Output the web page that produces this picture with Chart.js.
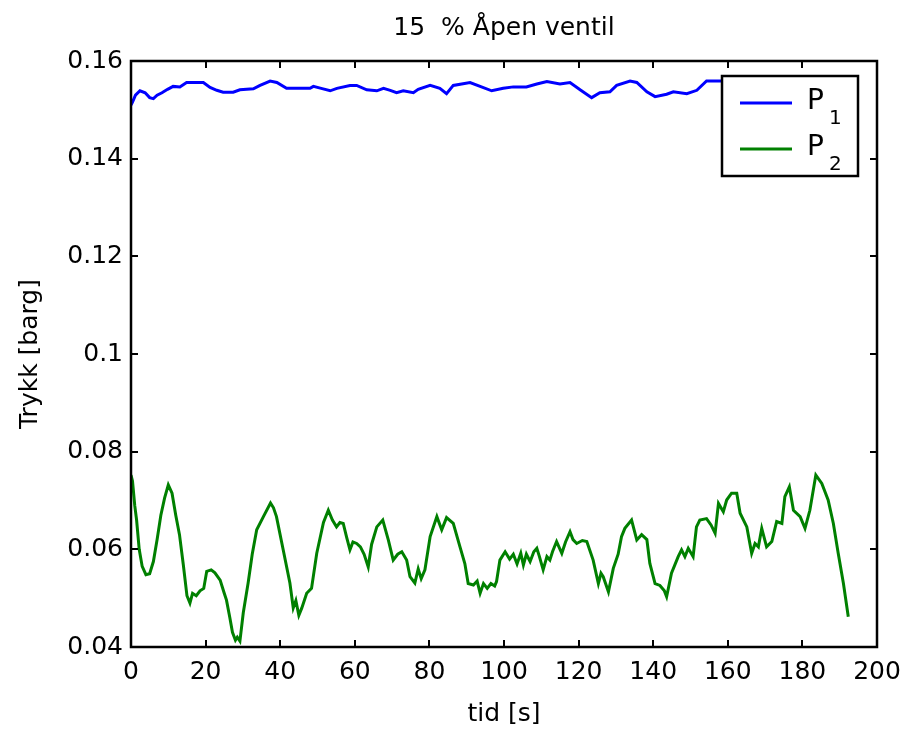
<!DOCTYPE html>
<html>
<head>
<meta charset="utf-8">
<script src="https://cdn.jsdelivr.net/npm/chart.js@4.4.1/dist/chart.umd.min.js"></script>
<style>
  html, body { margin: 0; padding: 0; background: #fff; }
  #wrap { width: 904px; height: 730px; position: relative; }
</style>
</head>
<body>
<div id="wrap"><canvas id="c"></canvas></div>
<script>
// ---- Data ----
const chartTitle = "15  % Åpen ventil";
const xAxisTitle = "tid [s]";
const yAxisTitle = "Trykk [barg]";
const seriesNames = ["P1", "P2"];

const xTicks = [0, 20, 40, 60, 80, 100, 120, 140, 160, 180, 200];
const yTicks = [0.04, 0.06, 0.08, 0.1, 0.12, 0.14, 0.16];

const p1Time = [0, 0.4, 1.2, 2.4, 3.8, 5.0, 6.0, 7.0, 8.3, 9.8, 11.3, 13.1, 14.9, 17.0, 19.4, 21.2, 23.0, 24.7, 27.4, 29.2,
  32.8, 34.6, 37.3, 39.1, 41.7, 45.0, 48.0, 48.9, 51.0, 53.4, 55.2, 58.7, 60.5, 63.2, 65.9, 67.7, 69.5, 71.2, 73.0, 75.7,
  77.0, 80.2, 82.8, 84.6, 86.4, 90.9, 93.6, 96.7, 99.8, 102.5, 106.0, 108.8, 111.5, 115.0, 117.7, 120.4, 123.5, 125.7,
  128.4, 130.2, 133.8, 135.6, 138.3, 140.5, 143.6, 145.4, 149.0, 151.7, 154.3, 157.9, 160.0];
const p1Values = [0.1510, 0.1516, 0.1530, 0.1539, 0.1535, 0.1525, 0.1523, 0.1530, 0.1535, 0.1542, 0.1548, 0.1547, 0.1556,
  0.1556, 0.1556, 0.1546, 0.1540, 0.1536, 0.1536, 0.1541, 0.1543, 0.1550, 0.1559, 0.1556, 0.1544, 0.1544, 0.1544, 0.1548,
  0.1544, 0.1539, 0.1544, 0.1550, 0.1550, 0.1541, 0.1539, 0.1544, 0.1540, 0.1535, 0.1539, 0.1535, 0.1542, 0.1550, 0.1544,
  0.1533, 0.1550, 0.1556, 0.1548, 0.1539, 0.1544, 0.1547, 0.1547, 0.1553, 0.1558, 0.1553, 0.1556, 0.1541, 0.1525, 0.1535,
  0.1537, 0.1550, 0.1559, 0.1556, 0.1537, 0.1527, 0.1532, 0.1537, 0.1533, 0.1540, 0.1559, 0.1559, 0.1559];

const p2Time = [0, 0.4, 1.0, 1.5, 2.2, 3.0, 4.0, 5.0, 6.0, 7.0, 8.0, 9.0, 10.0, 11.0, 12.0, 13.0, 14.0, 15.0, 15.8, 16.5,
  17.5, 18.5, 19.5, 20.3, 21.5, 22.5, 23.9, 25.0, 25.6, 26.5, 27.2, 28.0, 28.5, 29.2, 30.1, 31.4, 32.5, 33.7, 35.5, 37.4,
  38.2, 39.0, 40.8, 42.6, 43.5, 44.2, 45.0, 45.8, 47.1, 48.4, 49.8, 51.6, 52.9, 54.0, 55.1, 56.0, 56.9, 57.8, 58.7, 59.5,
  60.5, 61.5, 62.5, 63.6, 64.5, 65.9, 67.5, 69.0, 70.3, 71.5, 72.6, 73.9, 74.8, 76.1, 77.0, 77.8, 78.8, 80.2, 82.0, 83.3,
  84.6, 86.4, 88.2, 89.5, 90.4, 91.8, 92.8, 93.6, 94.5, 95.5, 96.5, 97.5, 98.0, 98.9, 100.3, 101.5, 102.5, 103.5, 104.5,
  105.2, 106.0, 107.0, 108.0, 108.8, 109.5, 110.5, 111.5, 112.3, 113.0, 114.1, 115.5, 116.5, 117.7, 118.5, 119.5, 121.0,
  122.2, 123.9, 125.3, 126.0, 126.6, 128.0, 129.3, 130.6, 131.5, 132.4, 134.2, 135.6, 136.9, 138.3, 139.1, 140.5, 141.8,
  143.0, 143.6, 144.9, 146.7, 147.6, 148.5, 149.4, 150.7, 151.6, 152.5, 154.3, 155.5, 156.6, 157.5, 158.8, 159.7, 161.0,
  162.4, 163.3, 165.1, 166.4, 167.3, 168.2, 169.1, 170.4, 171.8, 173.1, 174.5, 175.3, 176.5, 177.6, 179.4, 180.7, 182.0,
  183.6, 185.2, 186.9, 188.3, 189.6, 191.0, 192.3];
const p2Values = [0.0752, 0.0740, 0.0690, 0.0660, 0.0600, 0.0565, 0.0548, 0.0550, 0.0575, 0.0620, 0.0670, 0.0705, 0.0732,
  0.0715, 0.0670, 0.0630, 0.0570, 0.0505, 0.0490, 0.0510, 0.0505, 0.0515, 0.0520, 0.0555, 0.0558, 0.0552, 0.0537, 0.0510,
  0.0496, 0.0460, 0.0430, 0.0414, 0.0420, 0.0412, 0.0470, 0.0531, 0.0590, 0.0640, 0.0667, 0.0695, 0.0685, 0.0667, 0.0599,
  0.0531, 0.0480, 0.0495, 0.0465, 0.0480, 0.0510, 0.0520, 0.0592, 0.0655, 0.0680, 0.0660, 0.0646, 0.0655, 0.0653, 0.0625,
  0.0599, 0.0615, 0.0612, 0.0605, 0.0590, 0.0564, 0.0610, 0.0646, 0.0660, 0.0619, 0.0578, 0.0590, 0.0595, 0.0578, 0.0544,
  0.0531, 0.0560, 0.0540, 0.0558, 0.0626, 0.0667, 0.0640, 0.0665, 0.0653, 0.0605, 0.0571, 0.0530, 0.0527, 0.0535, 0.0510,
  0.0530, 0.0520, 0.0530, 0.0525, 0.0534, 0.0578, 0.0595, 0.0580, 0.0590, 0.0570, 0.0592, 0.0568, 0.0590, 0.0575, 0.0595,
  0.0602, 0.0585, 0.0558, 0.0585, 0.0578, 0.0595, 0.0616, 0.0592, 0.0615, 0.0636, 0.0620, 0.0612, 0.0618, 0.0616, 0.0578,
  0.0530, 0.0551, 0.0544, 0.0513, 0.0561, 0.0590, 0.0626, 0.0643, 0.0660, 0.0619, 0.0630, 0.0620, 0.0571, 0.0530, 0.0526,
  0.0515, 0.0503, 0.0551, 0.0585, 0.0599, 0.0585, 0.0602, 0.0585, 0.0646, 0.0660, 0.0663, 0.0650, 0.0633, 0.0694, 0.0677,
  0.0701, 0.0715, 0.0715, 0.0674, 0.0646, 0.0592, 0.0612, 0.0605, 0.0643, 0.0605, 0.0616, 0.0657, 0.0653, 0.0708, 0.0728,
  0.0680, 0.0667, 0.0643, 0.0680, 0.0752, 0.0735, 0.0701, 0.0653, 0.0592, 0.0530, 0.0462];

// ---- Styles ----
const FONT = "'DejaVu Sans', 'Liberation Sans', Arial, sans-serif";
const colors = ["#0000ff", "#008000"];

const toXY = (xs, ys) => xs.map((x, i) => ({ x: x, y: ys[i] }));

const matlabFrame = {
  id: 'matlabFrame',
  afterDraw(chart) {
    const ctx = chart.ctx;
    const a = chart.chartArea;
    const xs = chart.scales.x, ys = chart.scales.y;
    ctx.save();
    // box
    ctx.strokeStyle = '#000';
    ctx.lineWidth = 2.5;
    ctx.strokeRect(a.left, a.top, a.right - a.left, a.bottom - a.top);
    // inward ticks on all sides
    const tl = 7;
    ctx.lineWidth = 2;
    ctx.beginPath();
    xTicks.forEach(v => {
      const px = Math.round(xs.getPixelForValue(v));
      ctx.moveTo(px, a.bottom); ctx.lineTo(px, a.bottom - tl);
      ctx.moveTo(px, a.top); ctx.lineTo(px, a.top + tl);
    });
    yTicks.forEach(v => {
      const py = Math.round(ys.getPixelForValue(v));
      ctx.moveTo(a.left, py); ctx.lineTo(a.left + tl, py);
      ctx.moveTo(a.right, py); ctx.lineTo(a.right - tl, py);
    });
    ctx.stroke();

    // title
    ctx.fillStyle = '#000';
    ctx.font = '25px ' + FONT;
    ctx.textAlign = 'center';
    ctx.textBaseline = 'alphabetic';
    ctx.fillText(chartTitle, (a.left + a.right) / 2, 34.5);
    // x axis title
    ctx.fillText(xAxisTitle, (a.left + a.right) / 2, 721);
    // y axis title
    ctx.save();
    ctx.translate(37, (a.top + a.bottom) / 2);
    ctx.rotate(-Math.PI / 2);
    ctx.fillText(yAxisTitle, 0, 0);
    ctx.restore();

    // legend
    const lx = 722, ly = 76, lw = 136, lh = 100;
    ctx.fillStyle = '#fff';
    ctx.fillRect(lx, ly, lw, lh);
    ctx.lineWidth = 2.5;
    ctx.strokeStyle = '#000';
    ctx.strokeRect(lx, ly, lw, lh);
    const rows = [103, 149];
    rows.forEach((ry, i) => {
      ctx.strokeStyle = colors[i];
      ctx.lineWidth = 3;
      ctx.beginPath();
      ctx.moveTo(740, ry); ctx.lineTo(792, ry);
      ctx.stroke();
      ctx.fillStyle = '#000';
      ctx.textAlign = 'left';
      ctx.font = '28px ' + FONT;
      const name = seriesNames[i];
      ctx.fillText(name.charAt(0), 807, ry + 6);
      ctx.font = '20px ' + FONT;
      ctx.fillText(name.slice(1), 829, ry + 21);
    });
    ctx.restore();
  }
};

new Chart(document.getElementById('c'), {
  type: 'line',
  data: {
    datasets: [
      { label: seriesNames[0], data: toXY(p1Time, p1Values), borderColor: colors[0], borderWidth: 3,
        pointRadius: 0, tension: 0, fill: false },
      { label: seriesNames[1], data: toXY(p2Time, p2Values), borderColor: colors[1], borderWidth: 3,
        pointRadius: 0, tension: 0, fill: false }
    ]
  },
  options: {
    responsive: true,
    maintainAspectRatio: false,
    animation: false,
    events: [],
    layout: { padding: { left: 0, right: 27, top: 61, bottom: 0 } },
    plugins: { legend: { display: false }, title: { display: false }, tooltip: { enabled: false } },
    scales: {
      x: {
        type: 'linear', min: 0, max: 200,
        afterBuildTicks: s => { s.ticks = xTicks.map(v => ({ value: v })); },
        ticks: { color: '#000', font: { family: FONT, size: 25 }, padding: 10, maxRotation: 0, autoSkip: false,
          callback: v => String(v) },
        grid: { display: false, drawTicks: false },
        border: { display: false },
        afterFit: s => { s.height = 83; s.paddingLeft = 0; s.paddingRight = 0; }
      },
      y: {
        type: 'linear', min: 0.04, max: 0.16,
        afterBuildTicks: s => { s.ticks = yTicks.map(v => ({ value: v })); },
        ticks: { color: '#000', font: { family: FONT, size: 25 }, padding: 8, autoSkip: false,
          callback: v => String(Number(v.toFixed(2))) },
        grid: { display: false, drawTicks: false },
        border: { display: false },
        afterFit: s => { s.width = 131; s.paddingTop = 0; s.paddingBottom = 0; }
      }
    }
  },
  plugins: [matlabFrame]
});
</script>
</body>
</html>
